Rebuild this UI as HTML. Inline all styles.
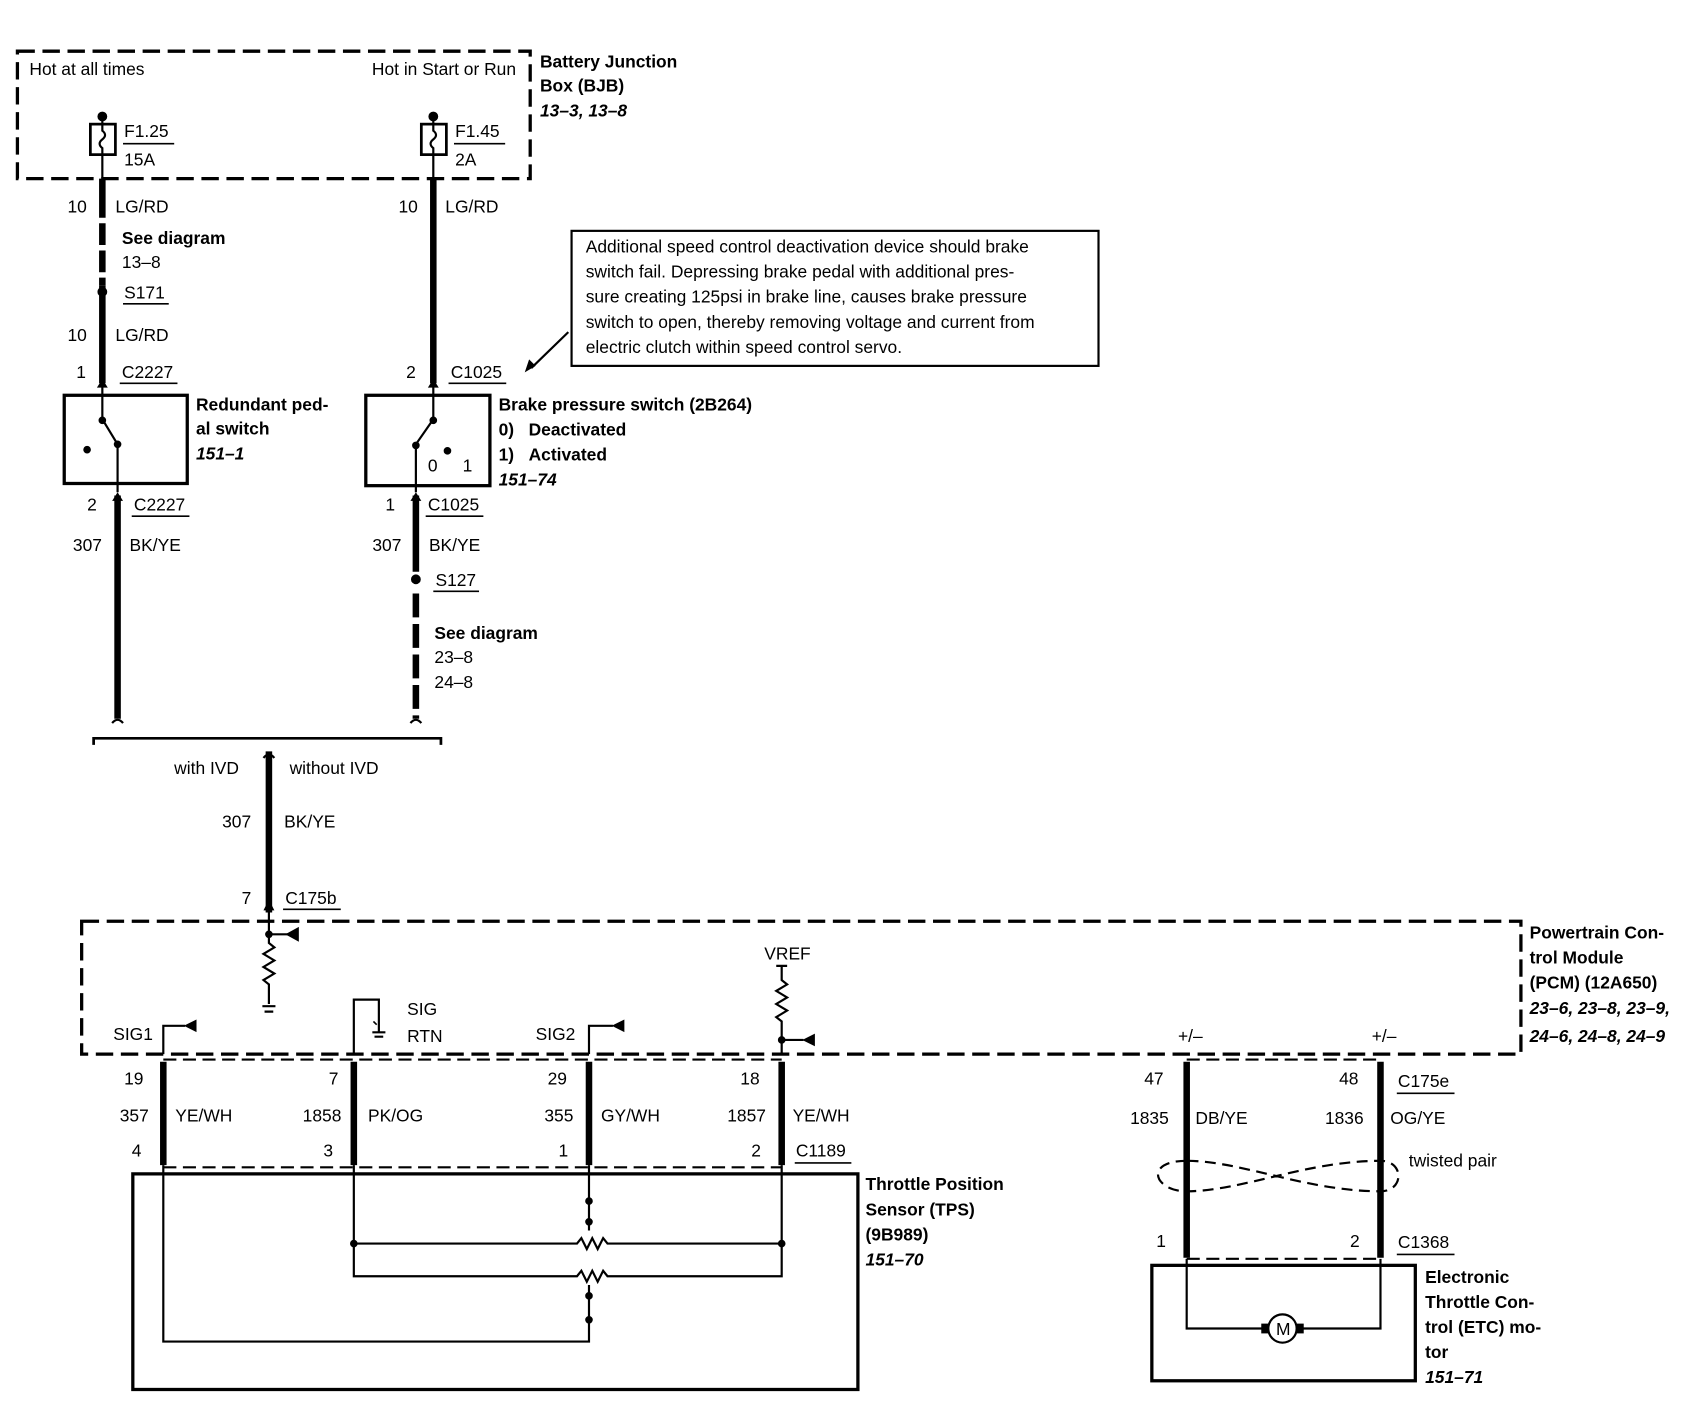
<!DOCTYPE html>
<html><head><meta charset="utf-8"><style>
html,body{margin:0;padding:0;background:#fff;}
svg{display:block;}
text{font-family:"Liberation Sans",sans-serif;font-size:16px;fill:#000;}
.b{font-weight:bold;}
.i{font-weight:bold;font-style:italic;}
</style></head><body>
<svg width="1706" height="1408" viewBox="0 0 1567 1293" preserveAspectRatio="none" xmlns="http://www.w3.org/2000/svg">
<g fill="none" stroke="#000">
<rect x="16" y="47" width="471" height="117" stroke-width="3" stroke-dasharray="16,7"/>
<circle cx="94" cy="107" r="4" fill="#000"/>
<rect x="83" y="114" width="23" height="28" stroke-width="2.5"/>
<path d="M94 107 V120 q5 4 0 8 q-5 4 0 8 V164" stroke-width="2"/>
<circle cx="398" cy="107" r="4" fill="#000"/>
<rect x="387" y="114" width="23" height="28" stroke-width="2.5"/>
<path d="M398 107 V120 q5 4 0 8 q-5 4 0 8 V164" stroke-width="2"/>
<path d="M94 164 V200 M94 262 V352" stroke-width="6"/>
<path d="M94 205 V262" stroke-width="6" stroke-dasharray="20,5"/>
<circle cx="94" cy="268" r="4" fill="#000"/>
<path d="M398 164 V352" stroke-width="6"/>
<rect x="59" y="363" width="113" height="81" stroke-width="3"/>
<path d="M94 352 V385 L108 408 V452" stroke-width="2"/>
<circle cx="94" cy="386" r="3" fill="#000"/><circle cx="108" cy="408" r="3" fill="#000"/>
<circle cx="80" cy="413" r="3" fill="#000"/>
<rect x="336" y="363" width="114" height="83" stroke-width="3"/>
<path d="M398 352 V385 L382 408 V452" stroke-width="2"/>
<circle cx="398" cy="386" r="3" fill="#000"/><circle cx="382" cy="409" r="3" fill="#000"/>
<circle cx="411" cy="414" r="3" fill="#000"/>
<path d="M108 455 V660" stroke-width="6"/>
<path d="M382 455 V525" stroke-width="6"/>
<path d="M382 545 V660" stroke-width="6" stroke-dasharray="22,6"/>
<circle cx="382" cy="532" r="4" fill="#000"/>
<path d="M103 664 q5 -6 10 0 M377 664 q5 -6 10 0" stroke-width="2"/>
<path d="M86 684 V678 H405 V684" stroke-width="2.5"/>
<path d="M247 690 V838" stroke-width="6"/>
<path d="M242 696 q5 -6 10 0" stroke-width="2"/>
<rect x="525" y="212" width="484" height="124" stroke-width="2"/>
<path d="M522 305 L488 338" stroke-width="2"/>
<rect x="75" y="846" width="1322" height="122" stroke-width="3" stroke-dasharray="16,7"/>
<path d="M247 838 V866 l5 4 -10 6 10 6 -10 6 10 6 -10 6 5 4 V922 M241 924 H253 M243 929 H251" stroke-width="2"/>
<path d="M247 858 H265" stroke-width="2"/>
<path d="M263 858 L274 852 V864 Z" fill="#000"/>
<circle cx="247" cy="858" r="3" fill="#000"/>
<path d="M150 968 V942 H170" stroke-width="2"/><path d="M170 942 L180 937 V947 Z" fill="#000"/>
<path d="M325 968 V918 H348 V948 M342 948 H354 M344 952 H352" stroke-width="2"/>
<path d="M343 938 l3 3" stroke-width="1.5"/>
<path d="M541 968 V942 H563" stroke-width="2"/><path d="M563 942 L573 937 V947 Z" fill="#000"/>
<path d="M713 887 H723 M718 887 V900 l5 4 -10 6 10 6 -10 6 10 6 -10 6 5 4 V968 M718 955 H738" stroke-width="2"/>
<path d="M738 955 L748 950 V960 Z" fill="#000"/>
<circle cx="718" cy="955" r="3" fill="#000"/>
<path d="M150 973 H718 M150 1072 H718" stroke-width="2" stroke-dasharray="12,6"/>
<path d="M1090 973 H1268 M1090 1156 H1268" stroke-width="2" stroke-dasharray="12,6"/>
<path d="M150 975 V1070 M325 975 V1070 M541 975 V1070 M718 975 V1070" stroke-width="6"/>
<path d="M1090 975 V1155 M1268 975 V1155" stroke-width="6"/>
<rect x="122" y="1078" width="666" height="198" stroke-width="3"/>
<path d="M150 1070 V1232 H541 V1180 M325 1070 V1172 H530 l4 -5 5 10 5 -10 5 10 5 -10 4 5 H718 V1070 M325 1142 H530 l4 -5 5 10 5 -10 5 10 5 -10 4 5 H718 M541 1070 V1130" stroke-width="2"/>
<circle cx="541" cy="1103" r="3" fill="#000"/><circle cx="541" cy="1122" r="3" fill="#000"/>
<circle cx="541" cy="1190" r="3" fill="#000"/><circle cx="541" cy="1212" r="3" fill="#000"/>
<circle cx="325" cy="1142" r="3" fill="#000"/><circle cx="718" cy="1142" r="3" fill="#000"/>
<path d="M1090 1066 C1050 1066 1060 1094 1090 1094 C1140 1094 1200 1066 1268 1066 C1290 1066 1290 1094 1268 1094 C1200 1094 1140 1066 1090 1066" stroke-width="2" stroke-dasharray="10,6"/>
<rect x="1058" y="1162" width="242" height="106" stroke-width="3"/>
<path d="M1090 1156 V1220 H1165 M1191 1220 H1268 V1156" stroke-width="2"/>
<circle cx="1178" cy="1220" r="13" stroke-width="2"/>
<rect x="1159" y="1216" width="6" height="8" fill="#000"/><rect x="1191" y="1216" width="6" height="8" fill="#000"/>
</g>
<g fill="#000">
<path d="M94 348 l-5 8 h10z M398 348 l-5 8 h10z M247 826 l-5 10 h10z M482 342 l4 -12 6 6z"/>
<path d="M108 452 l-5 8 h10z M382 452 l-5 8 h10z"/>
</g>
<text x="27" y="69">Hot at all times</text>
<text x="474" y="69" text-anchor="end">Hot in Start or Run</text>
<text x="496" y="62" class="b">Battery Junction</text>
<text x="496" y="84" class="b">Box (BJB)</text>
<text x="496" y="107" class="i">13–3, 13–8</text>
<text x="114" y="126">F1.25</text><text x="114" y="152">15A</text>
<text x="418" y="126">F1.45</text><text x="418" y="152">2A</text>
<g stroke="#000" stroke-width="1.5">
<line x1="113" y1="132" x2="160" y2="132"/><line x1="417" y1="132" x2="464" y2="132"/>
<line x1="113" y1="279" x2="155" y2="279"/><line x1="110" y1="352" x2="163" y2="352"/>
<line x1="412" y1="352" x2="465" y2="352"/><line x1="121" y1="474" x2="174" y2="474"/>
<line x1="391" y1="474" x2="444" y2="474"/><line x1="398" y1="543" x2="440" y2="543"/>
<line x1="260" y1="835" x2="313" y2="835"/><line x1="730" y1="1068" x2="782" y2="1068"/>
<line x1="1283" y1="1004" x2="1336" y2="1004"/><line x1="1283" y1="1152" x2="1336" y2="1152"/>
</g>
<text x="62" y="195">10</text><text x="106" y="195">LG/RD</text>
<text x="112" y="224" class="b">See diagram</text><text x="112" y="246">13–8</text>
<text x="114" y="274">S171</text>
<text x="62" y="313">10</text><text x="106" y="313">LG/RD</text>
<text x="70" y="347">1</text><text x="112" y="347">C2227</text>
<text x="366" y="195">10</text><text x="409" y="195">LG/RD</text>
<text x="373" y="347">2</text><text x="414" y="347">C1025</text>
<text x="180" y="377" class="b">Redundant ped-</text>
<text x="180" y="399" class="b">al switch</text>
<text x="180" y="422" class="i">151–1</text>
<text x="458" y="377" class="b">Brake pressure switch (2B264)</text>
<text x="458" y="400" class="b">0)&#160;&#160;&#160;Deactivated</text>
<text x="458" y="423" class="b">1)&#160;&#160;&#160;Activated</text>
<text x="458" y="446" class="i">151–74</text>
<text x="393" y="433">0</text><text x="425" y="433">1</text>
<text x="80" y="469">2</text><text x="123" y="469">C2227</text>
<text x="354" y="469">1</text><text x="393" y="469">C1025</text>
<text x="67" y="506">307</text><text x="119" y="506">BK/YE</text>
<text x="342" y="506">307</text><text x="394" y="506">BK/YE</text>
<text x="400" y="538">S127</text>
<text x="399" y="587" class="b">See diagram</text>
<text x="399" y="609">23–8</text><text x="399" y="632">24–8</text>
<g font-size="15">
<text x="538" y="232">Additional speed control deactivation device should brake</text>
<text x="538" y="255">switch fail. Depressing brake pedal with additional pres-</text>
<text x="538" y="278">sure creating 125psi in brake line, causes brake pressure</text>
<text x="538" y="301">switch to open, thereby removing voltage and current from</text>
<text x="538" y="324">electric clutch within speed control servo.</text>
</g>
<text x="160" y="711">with IVD</text><text x="266" y="711">without IVD</text>
<text x="204" y="760">307</text><text x="261" y="760">BK/YE</text>
<text x="222" y="830">7</text><text x="262" y="830">C175b</text>
<text x="1405" y="862" class="b">Powertrain Con-</text>
<text x="1405" y="885" class="b">trol Module</text>
<text x="1405" y="908" class="b">(PCM) (12A650)</text>
<text x="1405" y="931" class="i">23–6, 23–8, 23–9,</text>
<text x="1405" y="957" class="i">24–6, 24–8, 24–9</text>
<text x="104" y="955">SIG1</text>
<text x="374" y="932">SIG</text><text x="374" y="957">RTN</text>
<text x="492" y="955">SIG2</text>
<text x="702" y="881">VREF</text>
<text x="1082" y="957">+/–</text><text x="1260" y="957">+/–</text>
<text x="114" y="996">19</text><text x="110" y="1030">357</text><text x="161" y="1030">YE/WH</text><text x="121" y="1062">4</text>
<text x="302" y="996">7</text><text x="278" y="1030">1858</text><text x="338" y="1030">PK/OG</text><text x="297" y="1062">3</text>
<text x="503" y="996">29</text><text x="500" y="1030">355</text><text x="552" y="1030">GY/WH</text><text x="513" y="1062">1</text>
<text x="680" y="996">18</text><text x="668" y="1030">1857</text><text x="728" y="1030">YE/WH</text><text x="690" y="1062">2</text><text x="731" y="1062">C1189</text>
<text x="1051" y="996">47</text><text x="1038" y="1032">1835</text><text x="1098" y="1032">DB/YE</text><text x="1062" y="1145">1</text>
<text x="1230" y="996">48</text><text x="1284" y="998">C175e</text><text x="1217" y="1032">1836</text><text x="1277" y="1032">OG/YE</text>
<text x="1294" y="1071">twisted pair</text><text x="1240" y="1145">2</text><text x="1284" y="1146">C1368</text>
<text x="795" y="1093" class="b">Throttle Position</text>
<text x="795" y="1116" class="b">Sensor (TPS)</text>
<text x="795" y="1139" class="b">(9B989)</text>
<text x="795" y="1162" class="i">151–70</text>
<text x="1172" y="1226" font-size="14">M</text>
<text x="1309" y="1178" class="b">Electronic</text>
<text x="1309" y="1201" class="b">Throttle Con-</text>
<text x="1309" y="1224" class="b">trol (ETC) mo-</text>
<text x="1309" y="1247" class="b">tor</text>
<text x="1309" y="1270" class="i">151–71</text>
</svg>
</body></html>
